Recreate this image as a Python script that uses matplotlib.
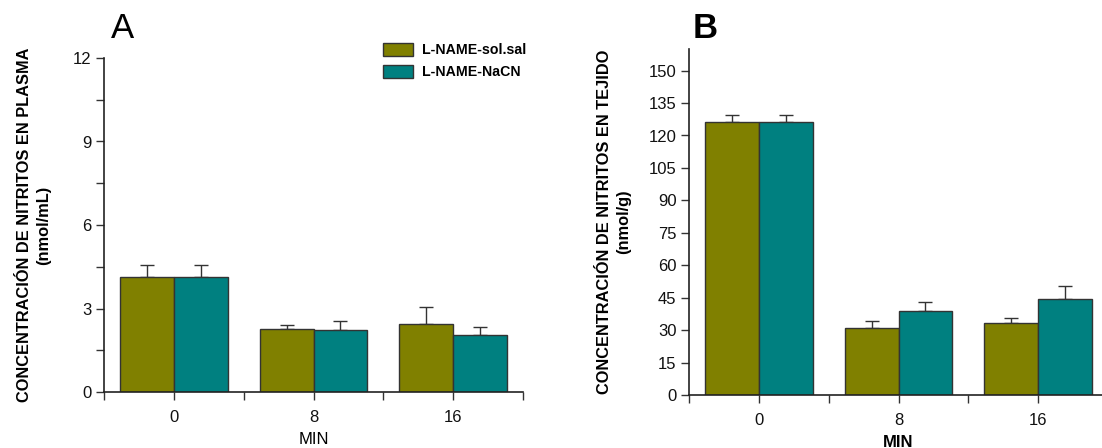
import matplotlib
matplotlib.use("Agg")
import matplotlib.pyplot as plt
from matplotlib.patches import Patch
import numpy as np

plt.rcParams['font.family'] = ['Liberation Sans', 'DejaVu Sans']

minutes = ["0", "8", "16"]
series = ["L-NAME-sol.sal", "L-NAME-NaCN"]
colors = ["#808000", "#008080"]

plasma_sal = [4.14, 2.26, 2.46]
plasma_sal_err = [0.43, 0.13, 0.60]
plasma_nacn = [4.14, 2.23, 2.03]
plasma_nacn_err = [0.43, 0.33, 0.29]

tissue_sal = [126.3, 30.9, 33.4]
tissue_sal_err = [3.1, 3.1, 2.0]
tissue_nacn = [126.3, 38.9, 44.2]
tissue_nacn_err = [3.1, 3.9, 6.0]

W, H = 1102, 448
fig = plt.figure(figsize=(W / 100, H / 100), dpi=100)

def px_axes(left, right, bottom, top):
    return fig.add_axes([left / W, 1 - bottom / H, (right - left) / W, (bottom - top) / H])

axA = px_axes(104, 523, 392, 58)
axB = px_axes(689, 1108, 395, 49)

bar_w = 0.385
edge = "#333333"

def draw_panel(ax, vals1, err1, vals2, err2, ymax, yticks, minor_y, ylabel, xlabel_bold):
    x = np.arange(len(minutes))
    for vals, errs, col, off in ((vals1, err1, colors[0], -bar_w / 2),
                                 (vals2, err2, colors[1], bar_w / 2)):
        ax.bar(x + off, vals, width=bar_w, color=col, edgecolor=edge, linewidth=1.0, zorder=2)
        ax.errorbar(x + off, vals, yerr=[np.zeros(len(vals)), errs], fmt="none",
                    ecolor="#333333", elinewidth=1.0, capsize=5, capthick=1.0, zorder=1)
    ax.set_xlim(-0.5, len(minutes) - 0.5)
    ax.set_ylim(0, ymax)
    ax.set_yticks(yticks)
    ax.set_yticklabels([str(t) for t in yticks])
    if minor_y is not None:
        ax.set_yticks(minor_y, minor=True)
    ax.set_xticks(x)
    ax.set_xticklabels(minutes)
    ax.set_xticks(np.arange(-0.5, len(minutes), 1.0), minor=True)
    for s in ("top", "right"):
        ax.spines[s].set_visible(False)
    for s in ("left", "bottom"):
        ax.spines[s].set_color("#222222")
        ax.spines[s].set_linewidth(1.2)
    ax.tick_params(axis="both", which="both", direction="out", length=6, width=1.0,
                   color="#333333", labelsize=12, labelcolor="#111111")
    ax.tick_params(axis="x", which="major", pad=7)
    ax.tick_params(axis="y", which="major", pad=3)
    ax.set_xlabel("MIN", fontsize=12, fontweight="bold" if xlabel_bold else "normal",
                  labelpad=5)
    ax.set_ylabel(ylabel, fontsize=11.8, fontweight="bold", linespacing=1.35)

draw_panel(axA, plasma_sal, plasma_sal_err, plasma_nacn, plasma_nacn_err,
           12, [0, 3, 6, 9, 12], np.arange(1.5, 12, 3.0),
           "CONCENTRACIÓN DE NITRITOS EN PLASMA\n(nmol/mL)", False)
draw_panel(axB, tissue_sal, tissue_sal_err, tissue_nacn, tissue_nacn_err,
           160, list(range(0, 151, 15)), None,
           "CONCENTRACIÓN DE NITRITOS EN TEJIDO\n(nmol/g)", True)

axA.yaxis.set_label_coords(-0.1265, 0.5)
axB.yaxis.set_label_coords(-0.138, 0.5)

fig.text(111 / W, 1 - 38 / H, "A", fontsize=25, ha="left", va="baseline")
fig.text(693 / W, 1 - 38 / H, "B", fontsize=25, fontweight="bold", ha="left", va="baseline")

handles = [Patch(facecolor=c, edgecolor=edge, linewidth=1.0) for c in colors]
fig.legend(handles, series, loc="upper left", bbox_to_anchor=(383 / W, 1 - 43 / H),
           frameon=False, handlelength=2.1, handleheight=1.0,
           handletextpad=0.63, labelspacing=0.55, borderpad=0, borderaxespad=0,
           prop={"weight": "bold", "size": 10.2})

fig.savefig("out.png", dpi=100)
